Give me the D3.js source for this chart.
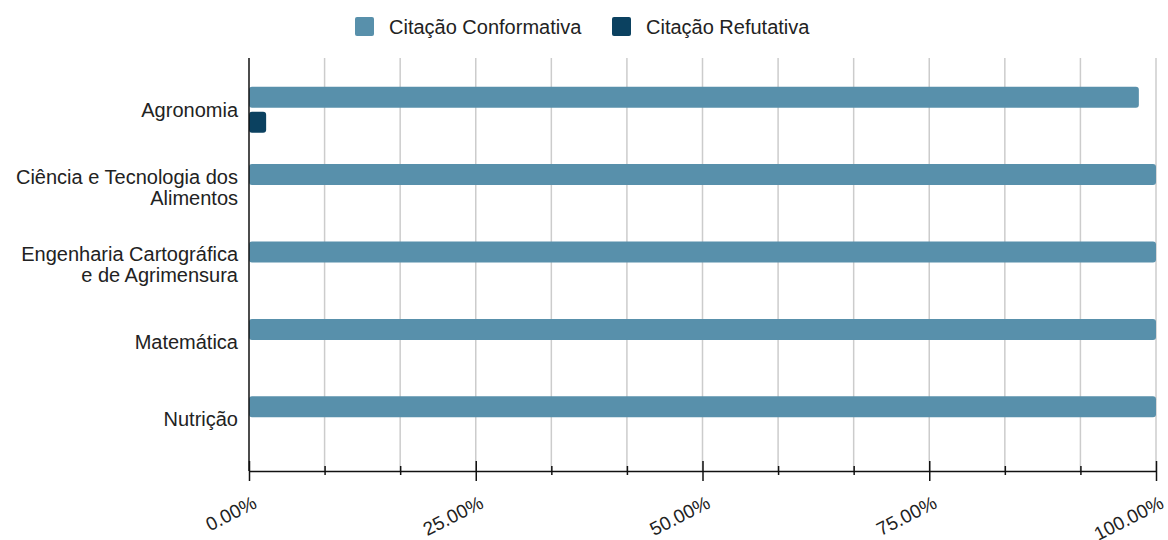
<!DOCTYPE html>
<html>
<head>
<meta charset="utf-8">
<script src="https://cdn.jsdelivr.net/npm/d3@7"></script>
<style>
  body { margin: 0; background: #fff; }
  text { font-family: Arial, "Liberation Sans", sans-serif; fill: #222; }
</style>
</head>
<body>
<svg width="1168" height="540"></svg>
<script>
'use strict';

// data
var categories = [
    ['Agronomia'],
    ['Ciência e Tecnologia dos', 'Alimentos'],
    ['Engenharia Cartográfica', 'e de Agrimensura'],
    ['Matemática'],
    ['Nutrição']
];
var seriesNames = ['Citação Conformativa', 'Citação Refutativa'];
var seriesColors = ['#5890ab', '#0b4160'];
var conformativa = [98.11, 100, 100, 100, 100];
var refutativa = [1.89, 0, 0, 0, 0];
var majorTicks = [0, 25, 50, 75, 100];
var gridTicks = d3.range(0, 13).map(function(i) { return i * 100 / 12; });

var svg = d3.select('svg');

var plot = { left: 249, right: 1156, top: 58, bottom: 471 };

var x = d3.scaleLinear()
    .domain([0, 100])
    .range([plot.left, plot.right]);

var y = d3.scaleBand()
    .domain(d3.range(categories.length))
    .range([71, 458]);

// gridlines
svg.append('g')
    .selectAll('line')
    .data(gridTicks.slice(1))
    .enter()
    .append('line')
    .attr('x1', function(d) { return x(d); })
    .attr('x2', function(d) { return x(d); })
    .attr('y1', plot.top)
    .attr('y2', plot.bottom)
    .attr('stroke', '#cccccc')
    .attr('stroke-width', 1.5);

// bars
var barH = 21;
var series = [conformativa, refutativa];
var barGroup = svg.append('g');
series.forEach(function(values, s) {
    barGroup.selectAll('.bar' + s)
        .data(values)
        .enter()
        .append('rect')
        .attr('class', 'bar' + s)
        .attr('x', x(0))
        .attr('y', function(d, i) {
            var c = y(i) + y.bandwidth() / 2;
            return s === 0 ? c - 2 - barH : c + 2;
        })
        .attr('width', function(d) { return Math.max(0, x(d) - x(0)); })
        .attr('height', barH)
        .attr('rx', 3)
        .attr('fill', seriesColors[s]);
});

// minor/major x ticks
var axisX = d3.axisBottom(x)
    .tickValues(gridTicks)
    .tickFormat('')
    .tickSizeInner(0)
    .tickSizeOuter(0);

var gx = svg.append('g')
    .attr('transform', 'translate(0,' + plot.bottom + ')')
    .call(axisX);
gx.select('.domain').attr('stroke', '#111').attr('stroke-width', 1.5);

gx.selectAll('.tick').each(function(d) {
    var major = majorTicks.indexOf(Math.round(d * 1000) / 1000) >= 0;
    d3.select(this).select('line')
        .attr('stroke', '#111')
        .attr('stroke-width', 1.5)
        .attr('y1', major ? -10 : -5)
        .attr('y2', major ? 10 : 4);
});

// major labels
svg.append('g')
    .selectAll('text')
    .data(majorTicks)
    .enter()
    .append('text')
    .attr('transform', function(d) {
        return 'translate(' + (x(d) + 9) + ',' + 507 + ') rotate(-27)';
    })
    .attr('text-anchor', 'end')
    .style('font-size', '19px')
    .text(function(d) { return d3.format('.2f')(d) + '%'; });

// y axis line
svg.append('line')
    .attr('x1', plot.left)
    .attr('x2', plot.left)
    .attr('y1', plot.top)
    .attr('y2', plot.bottom)
    .attr('stroke', '#111')
    .attr('stroke-width', 1.5);

// category labels
var labelGroup = svg.append('g');
categories.forEach(function(lines, i) {
    var c = y(i) + y.bandwidth() / 2;
    var lh = 21;
    var t = labelGroup.append('text')
        .attr('text-anchor', 'end')
        .style('font-size', '20px');
    lines.forEach(function(line, j) {
        t.append('tspan')
            .attr('x', 238)
            .attr('y', c + (j - (lines.length - 1) / 2) * lh)
            .attr('dy', '0.35em')
            .text(line);
    });
});

// legend
var legendX = [355, 612];
var legend = svg.append('g');
seriesNames.forEach(function(name, i) {
    legend.append('rect')
        .attr('x', legendX[i])
        .attr('y', 17)
        .attr('width', 19)
        .attr('height', 19)
        .attr('rx', 2)
        .attr('fill', seriesColors[i]);
    legend.append('text')
        .attr('x', legendX[i] + 34)
        .attr('y', 27)
        .attr('dy', '0.35em')
        .style('font-size', '20px')
        .text(name);
});
</script>
</body>
</html>
